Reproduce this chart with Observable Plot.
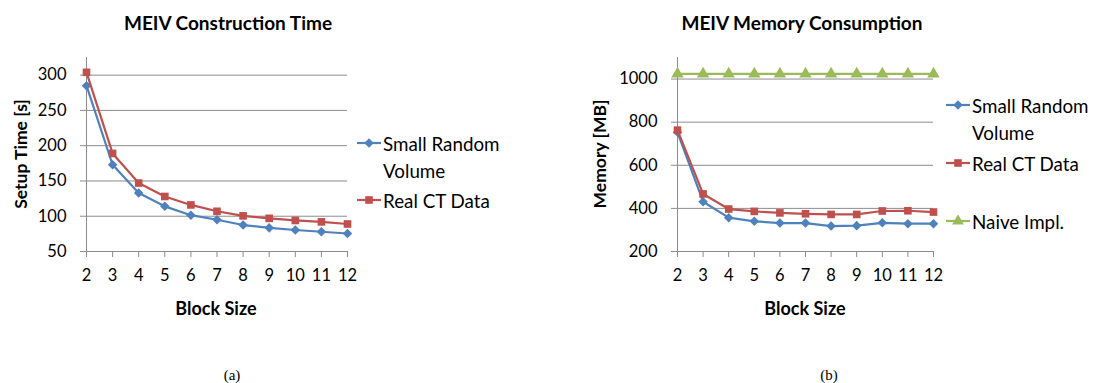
<!DOCTYPE html>
<html>
<head>
<meta charset="utf-8">
<script src="https://cdn.jsdelivr.net/npm/d3@7"></script>
<script src="https://cdn.jsdelivr.net/npm/@observablehq/plot@0.6"></script>
<style>
  html, body { margin: 0; padding: 0; background: #fff; }
  #root { position: relative; width: 1094px; height: 383px; overflow: hidden; font-family: Lato, "Open Sans", sans-serif; color: #000; }
  .abs { position: absolute; white-space: nowrap; }
  .title { font-weight: bold; font-size: 19px; transform: translate(-50%, -50%); }
  .axt { font-weight: bold; font-size: 18px; transform: translate(-50%, -50%); }
  .axty { font-weight: bold; font-size: 17.5px; transform: translate(-50%, -50%) rotate(-90deg); }
  .leg { font-size: 18.8px; line-height: 27px; }
  .cap { font-family: "Liberation Serif", "DejaVu Serif", serif; font-size: 15px; transform: translate(-50%, -50%); }
  .plotbox { position: absolute; top: 0; }
</style>
</head>
<body>
<div id="root"></div>
<script>
// ---------- data ----------
const blockSizes = [2, 3, 4, 5, 6, 7, 8, 9, 10, 11, 12];
const timeSmallRandom = [285, 173, 133, 114, 101.5, 95, 87.5, 83.5, 80.5, 78, 75.5];
const timeRealCT = [304, 189, 147, 128, 116, 107, 100.5, 97, 94, 92, 89];
const memSmallRandom = [753, 431, 357, 340, 332, 332, 318, 320, 333, 329, 329];
const memRealCT = [763, 467, 397, 386, 379, 375, 372, 372, 388, 389, 383];
const memNaive = [1024, 1024, 1024, 1024, 1024, 1024, 1024, 1024, 1024, 1024, 1024];
const timeTicks = [50, 100, 150, 200, 250, 300];
const memTicks = [200, 400, 600, 800, 1000];
const seriesNames = ["Small Random Volume", "Real CT Data", "Naive Impl."];
const seriesColors = ["#4F81BD", "#C0504D", "#9BBB59"];
const seriesSymbols = ["diamond2", "square", "triangle"];

const root = document.getElementById("root");
const grid = "#8c8c8c";

function rows(ys, s) { return blockSizes.map((b, i) => ({x: b, y: ys[i], s})); }

function makePlot({series, yDomain, yTicks, marginLeft, marginRight}) {
  const marks = [
    Plot.gridY(yTicks, {stroke: grid, strokeOpacity: 1, strokeWidth: 1}),
    Plot.frame({anchor: "left", stroke: grid, strokeOpacity: 1}),
    Plot.axisY(yTicks, {tickSize: 6, tickPadding: 14, stroke: grid, fontSize: 16.5, label: null, fill: "#000", tickFormat: d3.format("d")}),
    Plot.axisX(blockSizes, {tickSize: 6, tickPadding: 12, stroke: grid, fontSize: 16.5, label: null, fill: "#000", tickFormat: d3.format("d")})
  ];
  for (const s of series) {
    const data = rows(s.values, s.idx);
    marks.push(Plot.line(data, {x: "x", y: "y", stroke: seriesColors[s.idx], strokeWidth: 2.2}));
    marks.push(Plot.dot(data, {x: "x", y: "y", symbol: seriesSymbols[s.idx], fill: seriesColors[s.idx], r: s.idx === 1 ? 4.3 : (s.idx === 0 ? 4.3 : 4.6), stroke: "none"}));
  }
  return Plot.plot({
    width: 547, height: 330,
    marginLeft, marginRight, marginTop: 57, marginBottom: 79,
    style: {fontFamily: "Lato, 'Open Sans', sans-serif", background: "transparent", overflow: "visible"},
    x: {domain: [2, 12]},
    y: {domain: yDomain},
    marks
  });
}

const p1 = makePlot({
  series: [{values: timeSmallRandom, idx: 0}, {values: timeRealCT, idx: 1}],
  yDomain: [50, 325], yTicks: timeTicks, marginLeft: 86, marginRight: 200
});
const p2 = makePlot({
  series: [{values: memNaive, idx: 2}, {values: memSmallRandom, idx: 0}, {values: memRealCT, idx: 1}],
  yDomain: [200, 1100], yTicks: memTicks, marginLeft: 130, marginRight: 161
});
const b1 = document.createElement("div"); b1.className = "plotbox"; b1.style.left = "0px"; b1.appendChild(p1); root.appendChild(b1);
const b2 = document.createElement("div"); b2.className = "plotbox"; b2.style.left = "547px"; b2.appendChild(p2); root.appendChild(b2);

function addText(cls, txt, x, y) {
  const d = document.createElement("div");
  d.className = "abs " + cls; d.textContent = txt;
  d.style.left = x + "px"; d.style.top = y + "px";
  root.appendChild(d); return d;
}
addText("title", "MEIV Construction Time", 228, 22);
addText("title", "MEIV Memory Consumption", 802, 22);
addText("axt", "Block Size", 216, 308);
addText("axt", "Block Size", 805, 308);
addText("axty", "Setup Time [s]", 19.5, 154);
addText("axty", "Memory [MB]", 599, 153.5);
addText("cap", "(a)", 232, 375);
addText("cap", "(b)", 829, 375);

function swatch(idx) {
  const ns = "http://www.w3.org/2000/svg";
  const svg = document.createElementNS(ns, "svg");
  svg.setAttribute("width", 24); svg.setAttribute("height", 12);
  svg.style.position = "absolute"; svg.style.left = "-26px"; svg.style.top = "7.5px";
  const l = document.createElementNS(ns, "line");
  l.setAttribute("x1", 0); l.setAttribute("x2", 24); l.setAttribute("y1", 6); l.setAttribute("y2", 6);
  l.setAttribute("stroke", seriesColors[idx]); l.setAttribute("stroke-width", 2.2);
  svg.appendChild(l);
  const p = document.createElementNS(ns, "path");
  const sym = {diamond2: d3.symbolDiamond2, square: d3.symbolSquare, triangle: d3.symbolTriangle}[seriesSymbols[idx]];
  p.setAttribute("d", d3.symbol(sym, idx === 1 ? 58 : (idx === 0 ? 58 : 60))());
  p.setAttribute("transform", "translate(12,6)");
  p.setAttribute("fill", seriesColors[idx]);
  svg.appendChild(p);
  return svg;
}
function legendItem(idx, x, yCenterFirst, twoLines) {
  const d = document.createElement("div");
  d.className = "abs leg";
  d.style.left = x + "px"; d.style.top = (yCenterFirst - 13.5) + "px";
  if (twoLines) {
    const n = seriesNames[idx];
    const cut = n.lastIndexOf(" ");
    d.appendChild(document.createTextNode(n.slice(0, cut)));
    d.appendChild(document.createElement("br"));
    d.appendChild(document.createTextNode(n.slice(cut + 1)));
  } else {
    d.textContent = seriesNames[idx];
  }
  d.appendChild(swatch(idx));
  root.appendChild(d);
}
legendItem(0, 383, 143, true);
legendItem(1, 383, 200, false);
legendItem(0, 972, 105, true);
legendItem(1, 972, 163, false);
legendItem(2, 972, 221, false);
</script>
</body>
</html>
